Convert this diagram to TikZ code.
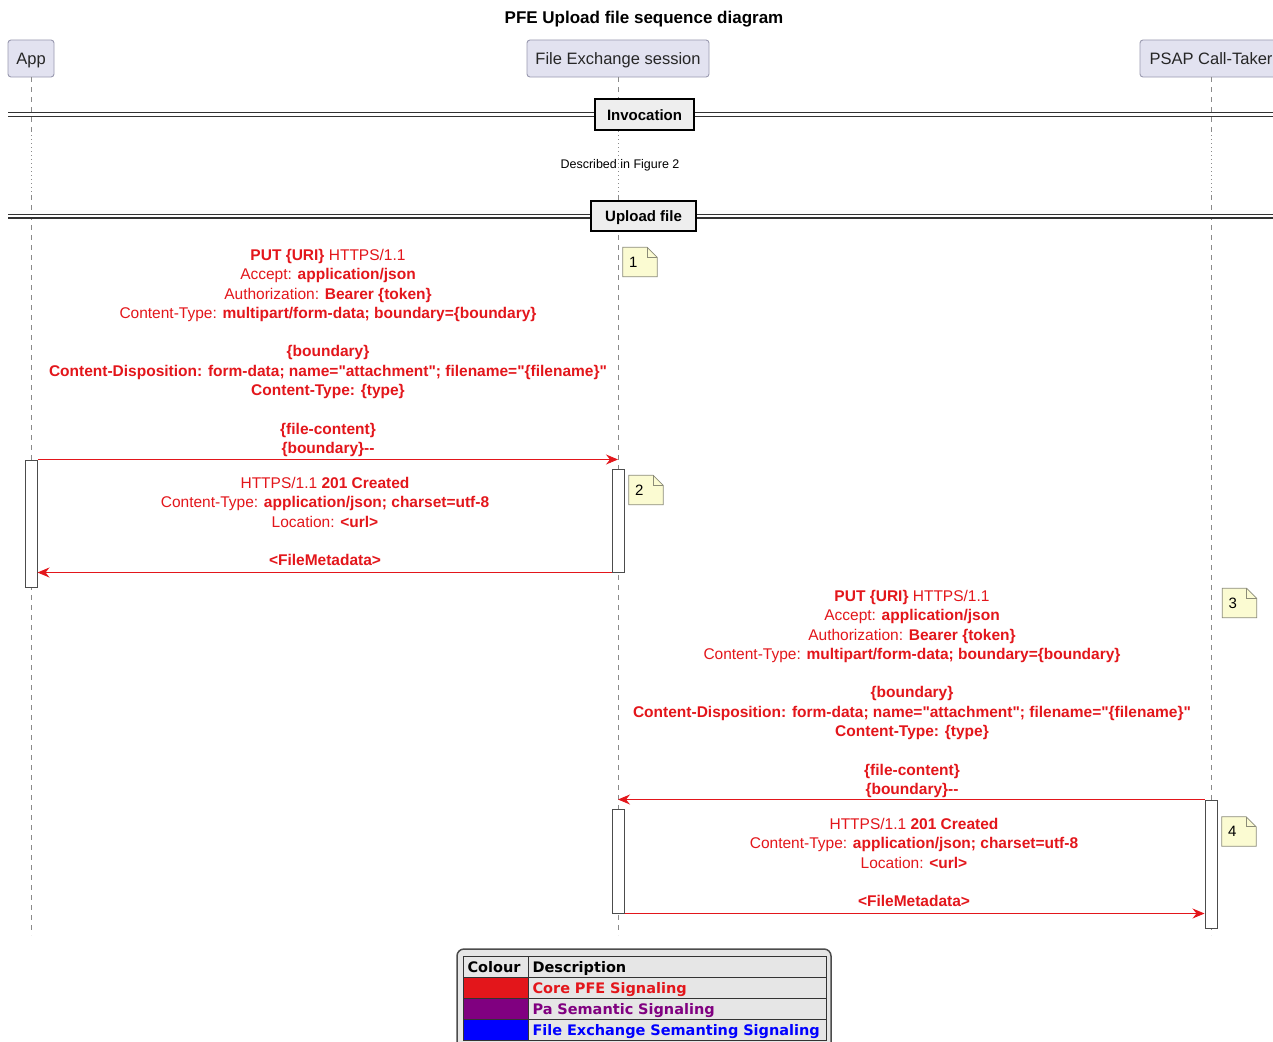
\documentclass[tikz,border=0pt]{standalone}
\usepackage{fontspec}
\setmainfont{Liberation Sans}[Ligatures=TeXOff]
\newfontfamily\legendfont{DejaVu Sans}
\usetikzlibrary{arrows.meta,backgrounds}

\definecolor{sigred}{HTML}{E3161B}
\definecolor{partfill}{HTML}{E2E2F0}
\definecolor{partline}{HTML}{9A9AB0}
\definecolor{lifegrey}{HTML}{8A8A8A}
\definecolor{notefill}{HTML}{FBFBD2}
\definecolor{noteline}{HTML}{8C8C78}
\definecolor{barfill}{HTML}{EEEEEE}
\definecolor{legbg}{HTML}{E6E6E6}
\definecolor{sigpurple}{HTML}{800080}
\definecolor{sigblue}{HTML}{0000FF}

\tikzset{
  participant/.style={draw=partline, fill=partfill, rounded corners=3pt, line width=0.9pt,
    inner sep=0pt, minimum height=37pt, text height=12pt, text depth=0pt,
    font=\fontsize{16.5}{20}\selectfont, text=black!85},
  lifeline/.style={draw=lifegrey, line width=0.8pt, dash pattern=on 5pt off 5pt},
  lifedots/.style={draw=lifegrey, line width=0.8pt, dash pattern=on 1pt off 3pt},
  divider/.style={draw=black!80, line width=1.4pt, double=white, double distance=2.2pt},
  dividerbox/.style={draw=black, fill=barfill, line width=2pt, inner sep=0pt,
    text height=11pt, text depth=0pt, font=\bfseries\fontsize{15}{18}\selectfont},
  actbar/.style={draw=black!70, fill=white, line width=1pt, minimum width=12pt, inner sep=0pt},
  msgtext/.style={text=sigred, align=center, inner sep=0pt, anchor=north,
    font=\fontsize{15.5}{19.3}\selectfont},
  msg/.style={draw=sigred, line width=0.9pt, -{Stealth[length=12pt,width=10pt,inset=4pt]}},
  notebox/.style={minimum height=29pt, inner sep=0pt, inner xsep=6pt, text width=22pt,
    align=left, font=\fontsize{15}{18}\selectfont},
  legcell/.style={draw=black!80, line width=1pt, inner sep=0pt, inner xsep=4pt,
    minimum height=21pt, anchor=north west, align=left, text height=11pt, text depth=0pt,
    font=\legendfont\bfseries\fontsize{14.5}{17}\selectfont},
  colcell/.style={legcell, text width=57pt},
  desccell/.style={legcell, text width=290pt}
}

\begin{document}
\begin{tikzpicture}[x=1pt,y=-1pt]
\useasboundingbox (0,0) rectangle (1273,1041);

% title
\node[font=\bfseries\fontsize{17}{20}\selectfont] (title) at (644,19) {PFE Upload file sequence diagram};

% participants
\node[participant, minimum width=46pt]  (app)  at (31,58.5)   {App};
\node[participant, minimum width=182pt] (fes)  at (618,58.5)  {File Exchange session};
\node[participant, minimum width=142pt] (psap) at (1211,58.5) {PSAP Call-Taker};

% lifelines
\coordinate (dotA) at (0,135);
\coordinate (dotB) at (0,195);
\coordinate (lifeEnd) at (0,935);
\foreach \p in {app,fes,psap}{
  \draw[lifeline] (\p.south) -- (\p.south |- dotA);
  \draw[lifedots] (\p.south |- dotA) -- (\p.south |- dotB);
  \draw[lifeline] (\p.south |- dotB) -- (\p.south |- lifeEnd);
}

% section dividers
\coordinate (divL) at (8,0);
\coordinate (divR) at (1290,0);
\node[dividerbox, minimum width=99pt, minimum height=31pt] (inv) at (644.5,114.5) {Invocation};
\draw[divider] (inv.west -| divL) -- (inv.west);
\draw[divider] (inv.east) -- (inv.east -| divR);
\node[font=\fontsize{12.5}{15}\selectfont] (desc) at (620,165) {Described in Figure 2};
\node[dividerbox, minimum width=105pt, minimum height=30pt] (upl) at (643.5,216) {Upload file};
\draw[divider] (upl.west -| divL) -- (upl.west);
\draw[divider] (upl.east) -- (upl.east -| divR);

% activation bars
\node[actbar, minimum height=127pt] (actapp)  at (31,523.5) {};
\node[actbar, minimum height=103pt] (actfes1) at (618,520.5) {};
\node[actbar, minimum height=128pt] (actpsap) at (1211,864) {};
\node[actbar, minimum height=104pt] (actfes2) at (618,861) {};

% App -> File Exchange session
\node[msgtext] (m1) at (328,249) {%
  \textbf{PUT \{URI\}} HTTPS/1.1\\
  Accept: \textbf{application/json}\\
  Authorization: \textbf{Bearer \{token\}}\\
  Content-Type: \textbf{multipart/form-data; boundary=\{boundary\}}\\[19.3pt]
  \textbf{\{boundary\}}\\
  \textbf{Content-Disposition: form-data; name="attachment"; filename="\{filename\}"}\\
  \textbf{Content-Type: \{type\}}\\[19.3pt]
  \textbf{\{file-content\}}\\
  \textbf{\{boundary\}-{}-}};
\draw[msg] (actapp.north east) -- (actapp.north east -| actfes1.center);

\node[msgtext] (r1) at (325,477) {%
  HTTPS/1.1 \textbf{201 Created}\\
  Content-Type: \textbf{application/json; charset=utf-8}\\
  Location: \textbf{<url>}\\[19.3pt]
  \textbf{<FileMetadata>}};
\draw[msg] (actfes1.south west) -- (actfes1.south west -| actapp.east);

% PSAP Call-Taker -> File Exchange session
\node[msgtext] (m3) at (912,590) {%
  \textbf{PUT \{URI\}} HTTPS/1.1\\
  Accept: \textbf{application/json}\\
  Authorization: \textbf{Bearer \{token\}}\\
  Content-Type: \textbf{multipart/form-data; boundary=\{boundary\}}\\[19.3pt]
  \textbf{\{boundary\}}\\
  \textbf{Content-Disposition: form-data; name="attachment"; filename="\{filename\}"}\\
  \textbf{Content-Type: \{type\}}\\[19.3pt]
  \textbf{\{file-content\}}\\
  \textbf{\{boundary\}-{}-}};
\draw[msg] (actpsap.north west) -- (actpsap.north west -| actfes2.center);

\node[msgtext] (r2) at (914,818) {%
  HTTPS/1.1 \textbf{201 Created}\\
  Content-Type: \textbf{application/json; charset=utf-8}\\
  Location: \textbf{<url>}\\[19.3pt]
  \textbf{<FileMetadata>}};
\draw[msg] (actfes2.south east) -- (actfes2.south east -| actpsap.west);

% numbered notes
\node[notebox] (n1) at (640,262)    {1};
\node[notebox] (n2) at (646,490)    {2};
\node[notebox] (n3) at (1239.5,603) {3};
\node[notebox] (n4) at (1239,831.5) {4};
\begin{scope}[on background layer]
  \fill[white] (0,0) rectangle (1273,1041);
  \foreach \n in {n1,n2,n3,n4}{
    \filldraw[fill=notefill, draw=noteline, line width=0.8pt]
      (\n.north west) -- ([xshift=-10pt]\n.north east) -- ([yshift=-10pt]\n.north east)
      -- (\n.south east) -- (\n.south west) -- cycle;
    \draw[noteline, line width=0.8pt] ([xshift=-10pt]\n.north east) |- ([yshift=-10pt]\n.north east);
  }
\end{scope}

% legend
\draw[draw=black!70, fill=legbg, line width=1.5pt, rounded corners=7pt] (457,949) rectangle (831,1060);
\node[colcell]  (h1)  at (463,956)  {Colour};
\node[desccell] (h2)  at (528,956)  {Description};
\node[colcell, fill=sigred]    (c1) at (463,977)  {};
\node[desccell, text=sigred]   (d1) at (528,977)  {Core PFE Signaling};
\node[colcell, fill=sigpurple] (c2) at (463,998)  {};
\node[desccell, text=sigpurple](d2) at (528,998)  {Pa Semantic Signaling};
\node[colcell, fill=sigblue]   (c3) at (463,1019) {};
\node[desccell, text=sigblue]  (d3) at (528,1019) {File Exchange Semanting Signaling};
\end{tikzpicture}
\end{document}
